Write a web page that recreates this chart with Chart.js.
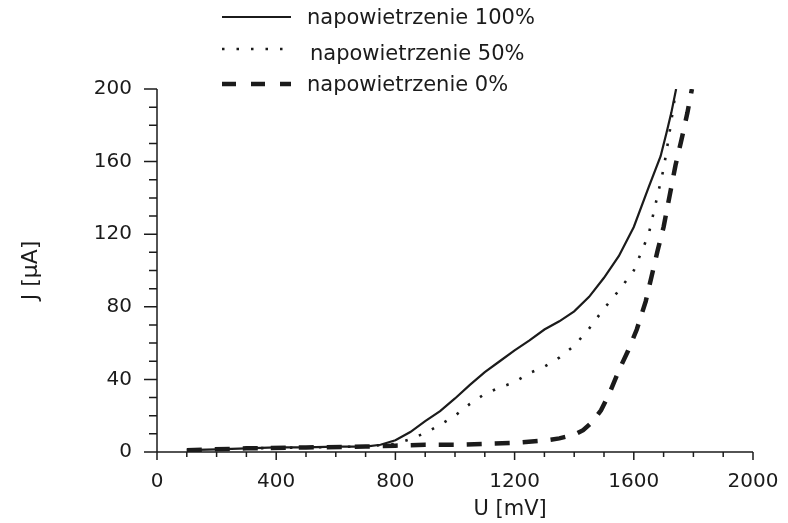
<!DOCTYPE html>
<html>
<head>
<meta charset="utf-8">
<script src="https://cdn.jsdelivr.net/npm/chart.js@4/dist/chart.umd.min.js"></script>
<style>
  html, body { margin: 0; padding: 0; background: #ffffff; }
  #wrap { width: 788px; height: 523px; position: relative; }
</style>
</head>
<body>
<div id="wrap"><canvas id="c" width="788" height="523"></canvas></div>
<script>
// ---- data ----
const seriesLabels = ['napowietrzenie 100%', 'napowietrzenie 50%', 'napowietrzenie 0%'];

const u100 = [100, 200, 300, 400, 500, 600, 700, 750, 800, 850, 900, 950, 1000, 1050, 1100, 1150, 1200, 1250, 1300, 1350, 1400, 1450, 1500, 1550, 1600, 1650, 1690, 1710, 1726, 1742];
const j100 = [1, 1.5, 2, 2.5, 2.5, 3, 3, 4, 6.5, 11, 17, 22.5, 29.5, 37, 44, 50, 56, 61.5, 67.5, 72, 77.5, 85.5, 96, 108, 124, 146, 163, 176, 187, 200];

const u50 = [300, 500, 700, 800, 850, 900, 950, 1000, 1050, 1100, 1150, 1200, 1250, 1300, 1350, 1400, 1450, 1500, 1550, 1600, 1650, 1700, 1720, 1742];
const j50 = [2, 2.5, 3, 4.5, 7, 10.5, 15, 20, 26.5, 32, 35.5, 38.5, 43.5, 47, 52, 58.5, 68, 79, 89, 100, 120, 156, 176, 200];

const u0 = [100, 300, 500, 700, 800, 900, 1000, 1100, 1200, 1300, 1350, 1400, 1430, 1460, 1490, 1520, 1550, 1580, 1610, 1640, 1660, 1680, 1700, 1720, 1740, 1760, 1780, 1795];
const j0 = [1, 2, 2.5, 3, 3.5, 4, 4, 4.5, 5, 6.3, 7.5, 9.5, 12, 16.5, 23, 33, 45, 55.5, 67.5, 83, 97, 111, 124, 141, 158, 172, 187, 200];

const xTicksMajor = [0, 400, 800, 1200, 1600, 2000];
const yTicksMajor = [0, 40, 80, 120, 160, 200];
const xTitle = 'U [mV]';
const yTitle = 'J [\u00b5A]';

// ---- build ----
const pts = (xs, ys) => xs.map((x, i) => ({ x: x, y: ys[i] }));
const INK = '#1b1b1b';
const FONT = 'DejaVu Sans';

const axesPlugin = {
  id: 'axesDraw',
  afterDraw(chart) {
    const ctx = chart.ctx;
    const xs = chart.scales.x, ys = chart.scales.y;
    const x0 = xs.getPixelForValue(0), x1 = xs.getPixelForValue(2000);
    const y0 = ys.getPixelForValue(0), y1 = ys.getPixelForValue(200);
    ctx.save();
    ctx.strokeStyle = INK;
    ctx.lineWidth = 1.5;
    ctx.beginPath();
    ctx.moveTo(x0, y0); ctx.lineTo(x1, y0);
    ctx.moveTo(x0, y0); ctx.lineTo(x0, y1);
    // y ticks every 10
    for (let v = 0; v <= 200; v += 10) {
      const y = ys.getPixelForValue(v);
      const len = (v % 40 === 0) ? 13 : 8;
      ctx.moveTo(x0, y); ctx.lineTo(x0 - len, y);
    }
    // x ticks every 100
    for (let v = 0; v <= 2000; v += 100) {
      const x = xs.getPixelForValue(v);
      const len = (v % 400 === 0) ? 8 : 5;
      ctx.moveTo(x, y0); ctx.lineTo(x, y0 + len);
    }
    ctx.stroke();

    // x axis title
    ctx.fillStyle = INK;
    ctx.font = '21px "' + FONT + '"';
    ctx.textAlign = 'center';
    ctx.textBaseline = 'middle';
    ctx.fillText(xTitle, xs.getPixelForValue(1185), 510);

    // legend
    const rows = [17, 49, 84];
    const textY = [19, 55, 86];
    const textX = [307, 310, 307];
    chart.data.datasets.forEach((ds, i) => {
      ctx.save();
      ctx.strokeStyle = ds.borderColor;
      ctx.lineWidth = ds.borderWidth;
      ctx.setLineDash(ds.legendDash || []);
      ctx.beginPath();
      ctx.moveTo(222, rows[i]); ctx.lineTo(291, rows[i]);
      ctx.stroke();
      ctx.restore();
      ctx.fillStyle = INK;
      ctx.font = '21px "' + FONT + '"';
      ctx.textAlign = 'left';
      ctx.textBaseline = 'middle';
      ctx.fillText(ds.label, textX[i], textY[i]);
    });
    ctx.restore();
  }
};

new Chart(document.getElementById('c'), {
  type: 'line',
  data: {
    datasets: [
      { label: seriesLabels[0], data: pts(u100, j100), borderColor: INK, borderWidth: 2.2, pointRadius: 0, tension: 0, fill: false },
      { label: seriesLabels[1], data: pts(u50, j50), borderColor: INK, borderWidth: 2.6, borderDash: [2.5, 12], legendDash: [2.5, 12], pointRadius: 0, tension: 0, fill: false },
      { label: seriesLabels[2], data: pts(u0, j0), borderColor: INK, borderWidth: 4.5, borderDash: [15, 13], legendDash: [14, 15], pointRadius: 0, tension: 0, fill: false }
    ]
  },
  options: {
    responsive: false,
    animation: false,
    devicePixelRatio: 1,
    layout: { padding: { top: 89, right: 35, left: 0, bottom: 0 } },
    plugins: { legend: { display: false }, tooltip: { enabled: false } },
    scales: {
      x: {
        type: 'linear', min: 0, max: 2000,
        grid: { display: false, drawTicks: false },
        border: { display: false },
        ticks: {
          stepSize: 400, padding: 18, color: INK, maxRotation: 0,
          font: { family: FONT, size: 20 },
          callback: v => xTicksMajor.includes(v) ? String(v) : ''
        },
        afterFit(s) { s.height = 71; s.paddingLeft = 0; s.paddingRight = 0; }
      },
      y: {
        type: 'linear', min: 0, max: 200,
        grid: { display: false, drawTicks: false },
        border: { display: false },
        ticks: {
          stepSize: 40, padding: 25, color: INK,
          font: { family: FONT, size: 20 },
          callback: v => yTicksMajor.includes(v) ? String(v) : ''
        },
        title: { display: true, text: yTitle, color: INK, font: { family: FONT, size: 22 }, padding: { top: 18 } },
        afterFit(s) { s.width = 157; s.paddingTop = 0; s.paddingBottom = 0; }
      }
    }
  },
  plugins: [axesPlugin]
});
</script>
</body>
</html>
